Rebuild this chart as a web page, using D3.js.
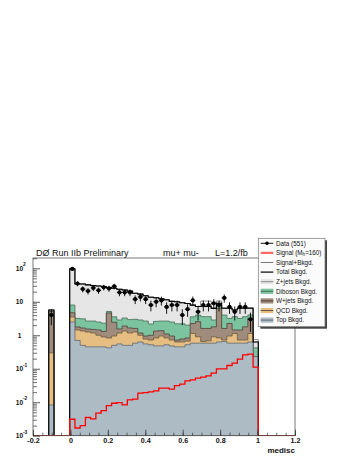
<!DOCTYPE html>
<html>
<head>
<meta charset="utf-8">
<script src="https://cdn.jsdelivr.net/npm/d3@7"></script>
<style>
  body { margin: 0; background: #fff; }
  svg { display: block; font-family: "Liberation Sans", Arial, sans-serif; }
</style>
</head>
<body>
<script>

// histogram bins: 50 bins of 0.028 over [-0.2, 1.2], only the filled ones listed
var binWidth = 0.028;
var binIndex = [3].concat(d3.range(7, 43));

var topBkg = [0.0083, 2.5, 0.7, 0.5, 0.45, 0.45, 0.45, 0.45, 0.42, 0.5, 0.55, 0.5, 0.5, 0.58, 0.63, 0.55, 0.52, 0.48, 0.48, 0.52, 0.48,
  0.45, 0.45, 0.52, 0.58, 0.58, 0.58, 0.58, 0.58, 0.63, 0.65, 0.58, 0.58, 0.58, 0.58, 0.63, 0.23];
var qcdBkg = [0.29, 1.0, 0.74, 0.84, 0.8, 0.72, 0.55, 0.44, 0.41, 0.45, 0.62, 0.84, 0.67, 0.67, 0.37, 0.22, 0.20, 0.35, 0.47, 0.31, 0.24,
  0.18, 0.18, 0.15, 0.55, 0.32, 0.07, 0.10, 0.32, 0.20, 0.07, 0.37, 0.55, 0.14, 0.14, 0.50, 0];
var wjetsBkg = [4.8, 1.2, 0.33, 0.31, 0.29, 0.32, 0.44, 0.41, 3.8, 1.5, 0.37, 0.55, 0.48, 0.35, 0.17, 0.18, 0.28, 0.51, 0.42, 0.26, 0.23,
  0.09, 0.14, 0.16, 1.1, 1.65, 0.95, 0.92, 0.88, 5.6, 0.88, 1.3, 0.31, 0.72, 1.06, 2.1, 0];
var dibosonBkg = [0, 3.3, 1.43, 1.45, 1.12, 1.17, 1.05, 1.0, 0.5, 1.1, 1.32, 1.38, 1.29, 1.4, 1.69, 1.71, 1.17, 1.26, 1.29, 1.57, 1.54,
  1.48, 1.43, 1.17, 1.33, 1.45, 2.0, 2.0, 1.08, 1.1, 2.4, 0.93, 2.16, 1.76, 1.82, 0.8, 0.19];
var zjetsBkg = [0.6, 89, 30.8, 30.9, 29.3, 28.1, 27.2, 26.3, 21.4, 21.9, 20.7, 19.2, 17.9, 14.9, 14.1, 12.5, 11.5, 10.6, 9.6, 8.8, 7.8,
  7.8, 7.2, 6.9, 4.4, 3.2, 3.6, 3.6, 3.5, 1.5, 2.4, 3.2, 2.1, 3.2, 2.8, 2.4, 0.21];
var signal = [0, 0.0031, 0.0017, 0.0020, 0.0035, 0.0032, 0.0047, 0.0056, 0.0079, 0.0093, 0.0097, 0.0083, 0.0117, 0.0123, 0.0186, 0.0194,
  0.0203, 0.0218, 0.0262, 0.0262, 0.0245, 0.0314, 0.0346, 0.0434, 0.0465, 0.0523, 0.0561, 0.0613, 0.0738, 0.099, 0.099, 0.125, 0.147,
  0.194, 0.261, 0.274, 0.112];
var sigBkg = [5.7, 97, 34, 34, 32, 30.8, 29.7, 28.6, 26.5, 25.5, 23.6, 22.5, 20.8, 17.9, 17.0, 15.2, 13.7, 13.2, 12.3, 11.5, 10.3,
  10.0, 9.4, 8.9, 8.0, 7.3, 10.5, 10.5, 6.5, 10.5, 6.5, 6.5, 5.8, 6.6, 6.7, 6.7, 0.74];
var dataCounts = [4, 96, 35, 24, 21, 26, 22, 27, 25, 29, 19, 19, 19, 12, 14, 12, 8, 10, 11, 7, 8, 8, 4, 6, 11, 5, 8, 8, 9, 8, 13,
  7, 5, 7, 7, 3, 0];

var xTicks = [-0.2, 0, 0.2, 0.4, 0.6, 0.8, 1, 1.2];
var xTickLabels = ["-0.2", "0", "0.2", "0.4", "0.6", "0.8", "1", "1.2"];
var yTicks = [1e-3, 1e-2, 1e-1, 1, 10, 100];
var yTickBase = ["10", "10", "10", "1", "10", "10"];
var yTickExp = ["-3", "-2", "-1", "", "", "2"];

var layerNames = ["Top", "QCD", "W+jets", "Diboson", "Z+jets"];
var layerFill = ["#adbbc5", "#e6be82", "#a08c7d", "#7cc4a0", "#e6e6e6"];
var layerLine = ["#5f6a72", "#6b5a40", "#4e4039", "#46705a", "#8a8a8a"];

var legendLabels = ["Data (551)", "Signal (M", "Signal+Bkgd.", "Total Bkgd.", "Z+jets Bkgd.",
  "Diboson Bkgd.", "W+jets Bkgd.", "QCD Bkgd.", "Top Bkgd."];

const w = 354, h = 458;
const margin = { left: 33, right: 59, top: 258, bottom: 22.3 };

var svg = d3.select("body").append("svg")
  .attr("width", w)
  .attr("height", h);

var x = d3.scaleLinear().domain([-0.2, 1.2]).range([margin.left, w - margin.right]);
var y = d3.scaleLog().domain([1e-3, 203]).range([h - margin.bottom, margin.top]);
var y0 = y(1e-3);

function yv(v) {
  return v > 1e-3 ? y(v) : y0;
}

svg.append("clipPath").attr("id", "plotclip")
  .append("rect")
  .attr("x", x(-0.2)).attr("y", margin.top)
  .attr("width", x(1.2) - x(-0.2)).attr("height", y0 - margin.top);

var plot = svg.append("g").attr("clip-path", "url(#plotclip)");

// filled histogram for the listed bins, one closed shape per run of bins
function stepFill(vals) {
  var p = "";
  binIndex.forEach(function (k, i) {
    var x0 = x(-0.2 + k * binWidth), x1 = x(-0.2 + (k + 1) * binWidth);
    var yy = yv(vals[i]);
    var first = i === 0 || binIndex[i - 1] !== k - 1;
    var last = i === binIndex.length - 1 || binIndex[i + 1] !== k + 1;
    if (first) p += "M" + x0 + "," + y0 + "V" + yy;
    else p += "V" + yy;
    p += "H" + x1;
    if (last) p += "V" + y0 + "Z";
  });
  return p;
}

// histogram outline over the whole range, empty bins sit on the floor
function stepLine(vals) {
  var lookup = new Map(binIndex.map((k, i) => [k, vals[i]]));
  var p = "";
  for (var k = 0; k < 50; k++) {
    var yy = yv(lookup.get(k) || 0);
    var x0 = x(-0.2 + k * binWidth), x1 = x(-0.2 + (k + 1) * binWidth);
    p += (k === 0 ? "M" + x0 + "," + yy : "V" + yy) + "H" + x1;
  }
  return p;
}

var layers = [topBkg, qcdBkg, wjetsBkg, dibosonBkg, zjetsBkg];
var cumulative = [];
layers.forEach(function (layer, li) {
  cumulative.push(layer.map((v, i) => v + (li > 0 ? cumulative[li - 1][i] : 0)));
});
var totalBkg = cumulative[cumulative.length - 1];

// biggest stack level first, like THStack
for (var li = layers.length - 1; li >= 0; li--) {
  plot.append("path")
    .attr("d", stepFill(cumulative[li]))
    .attr("fill", layerFill[li])
    .attr("stroke", layerLine[li])
    .attr("stroke-width", 0.8);
}

plot.append("path")
  .attr("d", stepLine(sigBkg))
  .attr("fill", "none")
  .attr("stroke", "#7a7a7a")
  .attr("stroke-width", 0.9);

plot.append("path")
  .attr("d", stepLine(totalBkg))
  .attr("fill", "none")
  .attr("stroke", "#000")
  .attr("stroke-width", 1.1);

plot.append("path")
  .attr("d", stepLine(signal))
  .attr("fill", "none")
  .attr("stroke", "#f00")
  .attr("stroke-width", 1.3);

// data points with sqrt(N) errors
var dataPts = binIndex.map((k, i) => ({ k: k, n: dataCounts[i] })).filter(d => d.n > 0);
var dataG = svg.append("g");
dataPts.forEach(function (d) {
  var xc = x(-0.2 + (d.k + 0.5) * binWidth);
  var err = Math.sqrt(d.n);
  dataG.append("line")
    .attr("x1", xc).attr("x2", xc)
    .attr("y1", yv(d.n - err)).attr("y2", y(d.n + err))
    .attr("stroke", "#000").attr("stroke-width", 0.9);
  dataG.append("line")
    .attr("x1", x(-0.2 + d.k * binWidth)).attr("x2", x(-0.2 + (d.k + 1) * binWidth))
    .attr("y1", y(d.n)).attr("y2", y(d.n))
    .attr("stroke", "#000").attr("stroke-width", 0.9);
  dataG.append("circle")
    .attr("cx", xc).attr("cy", y(d.n)).attr("r", 2.1)
    .attr("fill", "#000");
});

// frame
svg.append("rect")
  .attr("x", x(-0.2)).attr("y", margin.top)
  .attr("width", x(1.2) - x(-0.2)).attr("height", y0 - margin.top)
  .attr("fill", "none").attr("stroke", "#555").attr("stroke-width", 0.8);

// x axis, ticks pointing up
var xMinor = d3.range(-0.2, 1.2001, 0.05);
svg.append("g")
  .attr("transform", "translate(0," + y0 + ")")
  .call(d3.axisBottom(x).tickValues(xMinor).tickSize(-3).tickFormat(""))
  .call(g => g.select(".domain").remove())
  .selectAll("line").attr("stroke", "#333").attr("stroke-width", 0.7);

var xAxisG = svg.append("g")
  .attr("transform", "translate(0," + y0 + ")")
  .call(d3.axisBottom(x).tickValues(xTicks).tickSize(-6).tickPadding(2.5)
    .tickFormat((d, i) => xTickLabels[i]));
xAxisG.select(".domain").remove();
xAxisG.selectAll("line").attr("stroke", "#333").attr("stroke-width", 0.8);
xAxisG.selectAll("text")
  .attr("font-size", 7.2).attr("font-weight", "bold")
  .attr("font-family", "Liberation Sans, Arial, sans-serif")
  .attr("fill", "#111");

svg.append("text")
  .attr("x", x(1.2)).attr("y", 453)
  .attr("text-anchor", "end")
  .attr("font-size", 8).attr("font-weight", "bold")
  .attr("fill", "#111")
  .text("medisc");

// y axis, log, ticks pointing right
var yMinor = [];
yTicks.forEach(function (t) {
  for (var m = 2; m <= 9; m++) if (t * m < 203) yMinor.push(t * m);
});
svg.append("g")
  .attr("transform", "translate(" + x(-0.2) + ",0)")
  .call(d3.axisLeft(y).tickValues(yMinor).tickSize(-4).tickFormat(""))
  .call(g => g.select(".domain").remove())
  .selectAll("line").attr("stroke", "#333").attr("stroke-width", 0.7);

svg.append("g")
  .attr("transform", "translate(" + x(-0.2) + ",0)")
  .call(d3.axisLeft(y).tickValues(yTicks).tickSize(-7).tickFormat(""))
  .call(g => g.select(".domain").remove())
  .selectAll("line").attr("stroke", "#333").attr("stroke-width", 0.8);

yTicks.forEach(function (t, i) {
  svg.append("text")
    .attr("x", 19.5).attr("y", y(t)).attr("dy", "0.35em")
    .attr("text-anchor", "middle")
    .attr("font-size", 6.6).attr("font-weight", "bold").attr("fill", "#111")
    .text(yTickBase[i]);
  if (yTickExp[i]) {
    svg.append("text")
      .attr("x", 23).attr("y", y(t) - 2.2)
      .attr("font-size", 4.8).attr("font-weight", "bold").attr("fill", "#111")
      .text(yTickExp[i]);
  }
});

// header
svg.append("text").attr("x", 36).attr("y", 255.5).attr("font-size", 9).attr("fill", "#111")
  .text("DØ Run IIb Preliminary");
svg.append("text").attr("x", 163).attr("y", 255.5).attr("font-size", 9).attr("fill", "#111")
  .text("mu+ mu-");
svg.append("text").attr("x", 215).attr("y", 255.5).attr("font-size", 9).attr("fill", "#111")
  .text("L=1.2/fb");

// legend
var lg = svg.append("g");
var lx = 258.3, ly = 238.3, lw = 66.7, lh = 88.4;
lg.append("rect").attr("x", lx + 2).attr("y", ly + 2).attr("width", lw).attr("height", lh).attr("fill", "#444");
lg.append("rect").attr("x", lx).attr("y", ly).attr("width", lw).attr("height", lh)
  .attr("fill", "#fbfbfb").attr("stroke", "#777").attr("stroke-width", 0.7);

legendLabels.forEach(function (label, i) {
  var ry = 243.3 + i * 9.6;
  var mx0 = 260.7, mx1 = 273.3;
  if (i === 0) {
    lg.append("line").attr("x1", mx0).attr("x2", mx1).attr("y1", ry).attr("y2", ry)
      .attr("stroke", "#000").attr("stroke-width", 0.9);
    lg.append("circle").attr("cx", (mx0 + mx1) / 2).attr("cy", ry).attr("r", 1.8).attr("fill", "#000");
  } else if (i === 1) {
    lg.append("line").attr("x1", mx0).attr("x2", mx1).attr("y1", ry).attr("y2", ry)
      .attr("stroke", "#f66").attr("stroke-width", 2.2);
  } else if (i === 2) {
    lg.append("line").attr("x1", mx0).attr("x2", mx1).attr("y1", ry).attr("y2", ry)
      .attr("stroke", "#7a7a7a").attr("stroke-width", 1);
  } else if (i === 3) {
    lg.append("line").attr("x1", mx0).attr("x2", mx1).attr("y1", ry).attr("y2", ry)
      .attr("stroke", "#000").attr("stroke-width", 1.2);
  } else {
    var li2 = 8 - i;
    lg.append("rect").attr("x", mx0).attr("y", ry - 2.6).attr("width", mx1 - mx0).attr("height", 5.2)
      .attr("fill", layerFill[li2]);
    lg.append("line").attr("x1", mx0).attr("x2", mx1).attr("y1", ry).attr("y2", ry)
      .attr("stroke", layerLine[li2]).attr("stroke-width", 1);
  }
  var t = lg.append("text").attr("x", 276).attr("y", ry).attr("dy", "0.35em")
    .attr("font-size", 6.3).attr("fill", "#111").text(label);
  if (i === 1) {
    t.append("tspan").attr("font-size", 4.5).attr("dy", "0.25em").text("h");
    t.append("tspan").attr("dy", "-0.25em").text("=160)");
  }
});

</script>
</body>
</html>
